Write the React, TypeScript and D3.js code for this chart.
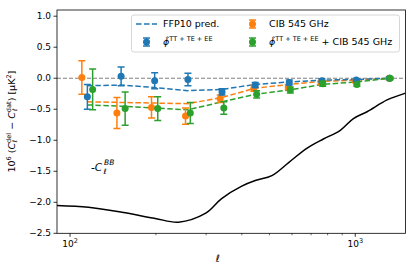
import React from "react";
import * as d3 from "d3";

const ellBins = [115, 151, 198, 259, 341, 446, 587, 764, 1008, 1319];
const binShift = 5;

const phiVals = [-0.30, 0.03, -0.04, -0.02, -0.22, -0.11, -0.07, -0.04, -0.03, 0.0];
const phiErr = [0.2, 0.15, 0.13, 0.1, 0.05, 0.04, 0.04, 0.03, 0.02, 0.02];
const cibVals = [0.01, -0.56, -0.47, -0.61, -0.33, -0.16, -0.14, -0.07, -0.05, 0.0];
const cibErr = [0.27, 0.25, 0.17, 0.13, 0.06, 0.05, 0.04, 0.03, 0.02, 0.02];
const combVals = [-0.18, -0.49, -0.49, -0.56, -0.48, -0.26, -0.19, -0.09, -0.1, 0.0];
const combErr = [0.33, 0.27, 0.19, 0.17, 0.1, 0.06, 0.05, 0.04, 0.03, 0.02];

const phiPred = [-0.12, -0.11, -0.15, -0.2, -0.18, -0.1, -0.06, -0.03, -0.02, 0.0];
const cibPred = [-0.38, -0.39, -0.4, -0.41, -0.31, -0.16, -0.1, -0.05, -0.03, 0.0];
const combPred = [-0.43, -0.45, -0.48, -0.51, -0.38, -0.26, -0.19, -0.1, -0.06, 0.0];

const bbEll = [90, 116, 152, 199, 240, 298, 340, 400, 446, 510, 584, 676, 773, 886, 985, 1100, 1293, 1500];
const bbVals = [-2.05, -2.08, -2.16, -2.26, -2.32, -2.18, -1.94, -1.74, -1.65, -1.57, -1.36, -1.13, -0.98, -0.84, -0.65, -0.54, -0.35, -0.24];

const yTicks = [1.0, 0.5, 0.0, -0.5, -1.0, -1.5, -2.0, -2.5];
const minorTicks = [200, 300, 400, 500, 600, 700, 800, 900];

const BLUE = "#1f77b4";
const ORANGE = "#ff7f0e";
const GREEN = "#2ca02c";
const FONT = "DejaVu Sans";

const L = 57, R = 405.5, T = 10, B = 233.3;

export default function App() {
  const x = d3.scaleLog().domain([90, 1500]).range([L, R]);
  const y = d3.scaleLinear().domain([-2.5, 1.1]).range([B, T]);
  const line = d3.line<[number, number]>().x(d => x(d[0])).y(d => y(d[1]));
  const curve = d3.line<[number, number]>().x(d => x(d[0])).y(d => y(d[1])).curve(d3.curveCatmullRom.alpha(0.5));

  const series = [
    { vals: cibVals, err: cibErr, pred: cibPred, color: ORANGE, shift: -binShift },
    { vals: phiVals, err: phiErr, pred: phiPred, color: BLUE, shift: 0 },
    { vals: combVals, err: combErr, pred: combPred, color: GREEN, shift: binShift },
  ];

  const fmt = (v: number) => (v < 0 ? "\u2212" : "") + Math.abs(v).toFixed(1);

  const errMark = (cx: number, cy: number, color: string, e: number, key: string) => (
    <g key={key}>
      <line x1={cx} x2={cx} y1={cy - e} y2={cy + e} stroke={color} strokeWidth={1.5} />
      <line x1={cx - 3.5} x2={cx + 3.5} y1={cy - e} y2={cy - e} stroke={color} strokeWidth={1.5} />
      <line x1={cx - 3.5} x2={cx + 3.5} y1={cy + e} y2={cy + e} stroke={color} strokeWidth={1.5} />
      <circle cx={cx} cy={cy} r={3.5} fill={color} />
    </g>
  );

  const phiLabel = (
    <>
      <tspan fontStyle="italic">{"\u03d5\u0302"}</tspan>
      <tspan fontSize={6.5} dy={-4}>TT + TE + EE</tspan>
    </>
  );

  return (
    <svg width={416} height={274} style={{ position: "absolute", left: 0, top: 0 }} fontFamily={FONT}>
      <rect x={0} y={0} width={416} height={274} fill="white" />
      <defs>
        <clipPath id="plot"><rect x={L} y={T} width={R - L} height={B - T} /></clipPath>
      </defs>
      <g clipPath="url(#plot)">
        <line x1={L} x2={R} y1={y(0)} y2={y(0)} stroke="#808080" strokeWidth={1.2} strokeDasharray="4,2" />
        <path d={curve(bbEll.map((e, i) => [e, bbVals[i]]) as [number, number][]) || ""} fill="none" stroke="black" strokeWidth={1.5} />
        {series.map((s, si) => (
          <path key={"p" + si} d={line(ellBins.map((e, i) => [e, s.pred[i]]) as [number, number][]) || ""} fill="none" stroke={s.color} strokeWidth={1.5} strokeDasharray="5.5,2.5" />
        ))}
        {series.map((s, si) =>
          s.vals.map((v, i) => {
            const cx = x(ellBins[i] + s.shift);
            const cy = y(v);
            const e = y(0) - y(s.err[i]);
            return errMark(cx, cy, s.color, e, si + "-" + i);
          })
        )}
      </g>
      <rect x={L} y={T} width={R - L} height={B - T} fill="none" stroke="black" strokeWidth={0.8} />
      {yTicks.map(t => (
        <g key={"y" + t}>
          <line x1={L - 3.5} x2={L} y1={y(t)} y2={y(t)} stroke="black" strokeWidth={0.8} />
          <text x={L - 6} y={y(t)} dy="0.35em" textAnchor="end" fontSize={9}>{fmt(t)}</text>
        </g>
      ))}
      {[100, 1000].map(t => (
        <g key={"x" + t}>
          <line x1={x(t)} x2={x(t)} y1={B} y2={B + 3.5} stroke="black" strokeWidth={0.8} />
          <text x={x(t)} y={B + 14} textAnchor="middle" fontSize={9}>
            10<tspan fontSize={6.5} dy={-4}>{t === 100 ? "2" : "3"}</tspan>
          </text>
        </g>
      ))}
      {minorTicks.map(t => (
        <line key={"m" + t} x1={x(t)} x2={x(t)} y1={B} y2={B + 2} stroke="black" strokeWidth={0.6} />
      ))}
      <text x={x(Math.sqrt(100 * 1000)) + 5} y={262} textAnchor="middle" fontSize={10} fontStyle="italic">ℓ</text>
      <text transform={`translate(15,${(T + B) / 2}) rotate(-90)`} textAnchor="middle" fontSize={9.5}>
        10<tspan fontSize={6.5} dy={-4}>6</tspan>
        <tspan dy={4}> (</tspan>
        <tspan fontStyle="italic">C</tspan>
        <tspan fontSize={6.5} dy={-4}>del</tspan>
        <tspan fontSize={6.5} dx={-9.5} dy={6} fontStyle="italic">ℓ</tspan>
        <tspan dy={-2} dx={7}> − </tspan>
        <tspan fontStyle="italic">C</tspan>
        <tspan fontSize={6.5} dy={-4}>dat</tspan>
        <tspan fontSize={6.5} dx={-9.5} dy={6} fontStyle="italic">ℓ</tspan>
        <tspan dy={-2} dx={7}>) [μK</tspan>
        <tspan fontSize={6.5} dy={-4}>2</tspan>
        <tspan dy={4}>]</tspan>
      </text>
      <text x={91} y={171} fontSize={10.5} fontStyle="italic">-C</text>
      <text x={104} y={165} fontSize={7.5} fontStyle="italic">BB</text>
      <text x={103.5} y={174} fontSize={7.5} fontStyle="italic">ℓ</text>
      <g>
        <rect x={131.5} y={15} width={268} height={37} rx={2.5} fill="white" fillOpacity={0.8} stroke="#cccccc" strokeWidth={0.8} />
        <line x1={136} x2={157} y1={24} y2={24} stroke={BLUE} strokeWidth={1.5} strokeDasharray="5.5,2.5" />
        <text x={163} y={24} dy="0.35em" fontSize={9.5}>FFP10 pred.</text>
        {errMark(146.5, 42, BLUE, 4, "lb")}
        <text x={163} y={42} dy="0.35em" fontSize={9.5}>{phiLabel}</text>
        {errMark(252.5, 24, ORANGE, 4, "lo")}
        <text x={269} y={24} dy="0.35em" fontSize={9.5}>CIB 545 GHz</text>
        {errMark(252.5, 42, GREEN, 4, "lg")}
        <text x={269} y={42} dy="0.35em" fontSize={9.5}>{phiLabel}<tspan dy={4}> + CIB 545 GHz</tspan></text>
      </g>
    </svg>
  );
}
